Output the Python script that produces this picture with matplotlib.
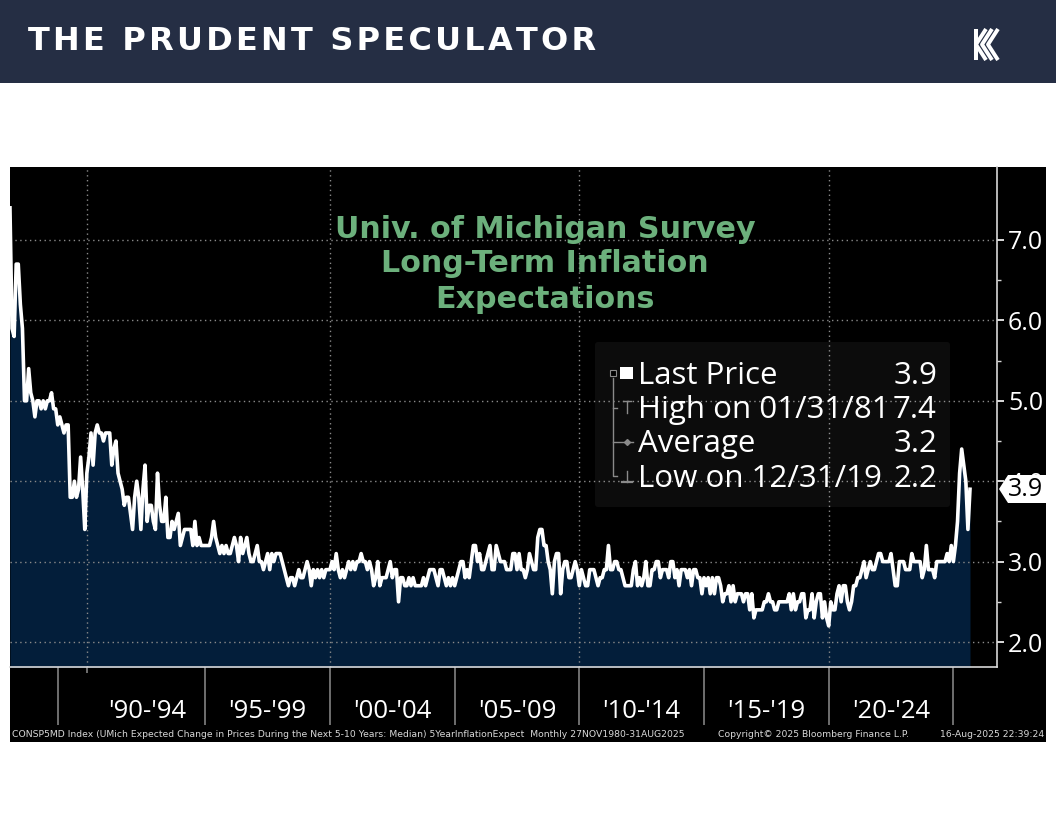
import numpy as np
import matplotlib
matplotlib.use('Agg')
import matplotlib.pyplot as plt
from matplotlib.patches import Rectangle, FancyBboxPatch, Polygon

# Readings. The early part of the series is squeezed on the axis.
early = [7.4, 5.9, 5.8, 6.7, 6.7, 6.2, 5.9, 5.0, 5.0, 5.4, 5.1, 5.0, 4.8, 5.0, 5.0, 4.9, 5.0, 4.9, 5.0,
         5.0, 5.1, 4.9, 4.9, 4.7, 4.8, 4.7, 4.6, 4.7, 4.7, 3.8, 3.8, 4.0, 3.8, 3.9, 4.3, 3.9, 3.4, 4.1,
         4.3, 4.6, 4.2, 4.6, 4.7, 4.6, 4.6, 4.5, 4.6, 4.6, 4.6, 4.2, 4.4, 4.5, 4.1, 4.0, 3.9, 3.7, 3.8,
         3.8, 3.6, 3.4, 3.8, 4.0, 3.8, 3.4, 3.9, 4.2, 3.5, 3.7, 3.7, 3.5, 3.4, 4.1, 3.7, 3.5, 3.5, 3.8,
         3.3, 3.3, 3.5, 3.4, 3.5, 3.6, 3.2, 3.3, 3.4, 3.4, 3.4, 3.4, 3.2, 3.5, 3.2, 3.3, 3.2, 3.2]
y1995 = [3.2, 3.2, 3.2, 3.3, 3.5, 3.3, 3.2, 3.1, 3.2, 3.1, 3.2, 3.1]
y1996 = [3.1, 3.2, 3.3, 3.2, 3.0, 3.3, 3.1, 3.2, 3.3, 3.1, 3.0, 3.0]
y1997 = [3.1, 3.2, 3.0, 3.0, 2.9, 3.0, 3.1, 2.9, 3.1, 3.0, 3.1, 3.1]
y1998 = [3.1, 3.0, 2.9, 2.8, 2.7, 2.8, 2.8, 2.7, 2.8, 2.9, 2.8, 2.8]
y1999 = [2.9, 3.0, 2.9, 2.7, 2.9, 2.8, 2.9, 2.8, 2.9, 2.8, 2.9, 2.9]
y2000 = [2.9, 3.0, 2.9, 3.1, 2.9, 2.8, 2.9, 2.8, 2.9, 3.0, 2.9, 3.0]
y2001 = [2.9, 3.0, 3.0, 3.1, 3.0, 3.0, 2.9, 3.0, 2.9, 2.7, 2.8, 3.0]
y2002 = [2.7, 2.8, 2.8, 2.8, 2.9, 3.0, 2.8, 2.9, 2.9, 2.5, 2.8, 2.8]
y2003 = [2.7, 2.7, 2.8, 2.7, 2.8, 2.7, 2.7, 2.7, 2.7, 2.8, 2.7, 2.8]
y2004 = [2.9, 2.9, 2.9, 2.8, 2.7, 2.9, 2.9, 2.8, 2.7, 2.8, 2.7, 2.8]
y2005 = [2.7, 2.8, 2.9, 3.0, 3.0, 2.8, 2.9, 2.8, 3.0, 3.2, 3.2, 3.0]
y2006 = [3.1, 2.9, 2.9, 3.0, 3.1, 3.2, 2.9, 2.9, 3.2, 3.1, 3.0, 3.0]
y2007 = [3.0, 2.9, 2.9, 2.9, 3.1, 3.1, 2.9, 3.1, 2.9, 2.9, 2.8, 2.9]
y2008 = [3.1, 3.0, 2.9, 2.9, 3.3, 3.4, 3.4, 3.2, 3.2, 3.0, 2.9, 2.6]
y2009 = [3.0, 3.1, 3.1, 2.6, 2.9, 3.0, 3.0, 2.8, 2.8, 2.9, 3.0, 2.9]
y2010 = [2.7, 2.9, 2.8, 2.7, 2.7, 2.9, 2.9, 2.9, 2.8, 2.7, 2.8, 2.8]
y2011 = [2.9, 2.9, 3.2, 2.9, 2.9, 3.0, 3.0, 2.9, 2.9, 2.8, 2.7, 2.7]
y2012 = [2.7, 2.7, 2.9, 3.0, 2.7, 2.8, 2.7, 2.8, 3.0, 2.7, 2.7, 2.9]
y2013 = [2.9, 3.0, 3.0, 2.8, 2.9, 2.9, 2.9, 2.8, 3.0, 3.0, 2.8, 2.9]
y2014 = [2.7, 2.9, 2.9, 2.9, 2.8, 2.9, 2.7, 2.9, 2.9, 2.8, 2.8, 2.6]
y2015 = [2.8, 2.7, 2.8, 2.6, 2.8, 2.6, 2.8, 2.8, 2.7, 2.5, 2.6, 2.6]
y2016 = [2.7, 2.5, 2.7, 2.5, 2.6, 2.6, 2.6, 2.5, 2.6, 2.6, 2.4, 2.6]
y2017 = [2.3, 2.4, 2.4, 2.4, 2.4, 2.5, 2.5, 2.6, 2.5, 2.5, 2.4, 2.4]
y2018 = [2.5, 2.5, 2.5, 2.5, 2.5, 2.6, 2.4, 2.6, 2.4, 2.5, 2.5, 2.6]
y2019 = [2.6, 2.3, 2.4, 2.4, 2.6, 2.3, 2.5, 2.6, 2.6, 2.3, 2.5, 2.3]
y2020 = [2.2, 2.5, 2.4, 2.4, 2.6, 2.7, 2.5, 2.7, 2.7, 2.5, 2.4, 2.5]
y2021 = [2.7, 2.7, 2.8, 2.8, 2.9, 3.0, 2.8, 2.9, 3.0, 2.9, 2.9, 3.0]
y2022 = [3.1, 3.1, 3.0, 3.0, 3.0, 3.0, 3.1, 2.9, 2.7, 2.7, 3.0, 3.0]
y2023 = [3.0, 2.9, 2.9, 2.9, 3.1, 3.0, 3.0, 3.0, 3.0, 2.8, 2.9, 3.2]
y2024 = [2.9, 2.9, 2.9, 2.8, 3.0, 3.0, 3.0, 3.0, 3.0, 3.1, 3.0, 3.2]
y2025 = [3.0, 3.2, 3.5, 4.1, 4.4, 4.2, 4.0, 3.4, 3.9]

period_labels = ["'90-'94", "'95-'99", "'00-'04", "'05-'09", "'10-'14", "'15-'19", "'20-'24"]
months_back_labels = [396, 338, 278, 218, 158, 98, 38]
months_back_ticks = [439, 368, 308, 248, 188, 128, 68, 8]
months_back_vgrid = [425, 308, 188, 68]
y_ticks = [2, 3, 4, 5, 6, 7]
legend_names = ['Last Price', 'High on 01/31/81', 'Average', 'Low on 12/31/19']
legend_values = ['3.9', '7.4', '3.2', '2.2']

values = np.array(early + y1995 + y1996 + y1997 + y1998 + y1999 + y2000 + y2001 + y2002 + y2003 + y2004
                  + y2005 + y2006 + y2007 + y2008 + y2009 + y2010 + y2011 + y2012 + y2013 + y2014 + y2015
                  + y2016 + y2017 + y2018 + y2019 + y2020 + y2021 + y2022 + y2023 + y2024 + y2025)
months_back = np.arange(len(values))[::-1]

W, H = 1056, 816
NAVY = '#252e44'
GREEN = '#6cb07c'
FONT = 'Open Sans'
fig = plt.figure(figsize=(W / 100, H / 100), dpi=100, facecolor='white')

# background: header band and the black terminal panel, in pixel coordinates
bg = fig.add_axes([0, 0, 1, 1], zorder=0)
bg.set_xlim(0, W)
bg.set_ylim(H, 0)
bg.axis('off')
bg.add_patch(Rectangle((0, 0), W, 83, color=NAVY, lw=0))
bg.add_patch(Rectangle((10, 167), 1036, 575, color='black', lw=0))

# chart axes
px_per_month = 2.078
ax = fig.add_axes([10 / W, 1 - 667 / H, 987 / W, 500 / H], zorder=1, facecolor='black')
ax.set_xlim((970 - 10) / px_per_month, (970 - 997) / px_per_month)
ax.set_ylim(2 - 25 / 80.4, 2 + 475 / 80.4)
ax.fill_between(months_back, values, 0, color='#031e3a', lw=0)
ax.plot(months_back, values, color='white', lw=2.6, solid_joinstyle='round')
for m in months_back_vgrid:
    ax.axvline(m, color='#8a8a8a', lw=1.0, ls=(0, (1, 2.5)), zorder=1.5)
for v in y_ticks:
    ax.axhline(v, color='#8a8a8a', lw=1.0, ls=(0, (1, 2.5)), zorder=1.5)

for side in ['top', 'left']:
    ax.spines[side].set_visible(False)
ax.spines['right'].set_color('#d8d8d8')
ax.spines['bottom'].set_color('#d8d8d8')
ax.spines['right'].set_linewidth(1.2)
ax.spines['bottom'].set_linewidth(1.2)
ax.yaxis.tick_right()
ax.set_yticks(y_ticks)
ax.set_yticklabels(['%.1f' % v for v in y_ticks], color='white', fontsize=18, family=FONT)
ax.set_yticks(np.array(y_ticks[:-1]) + 0.5, minor=True)
ax.tick_params(axis='y', which='major', length=5, width=1.2, color='white', pad=3)
ax.tick_params(axis='y', which='minor', length=3, width=1, color='#d8d8d8')
ax.set_xticks(months_back_ticks)
ax.set_xticklabels([])
ax.set_xticks([425], minor=True)
ax.tick_params(axis='x', which='major', length=42, width=1.1, color='#8c8c8c')
ax.tick_params(axis='x', which='minor', length=4, width=1.1, color='#8c8c8c')
for mid, lab in zip(months_back_labels, period_labels):
    ax.annotate(lab, xy=(mid, 0), xycoords=('data', 'axes fraction'), xytext=(0, -45 * 72 / 100),
                textcoords='offset points', ha='center', va='center', color='white', fontsize=18.5, family=FONT)

# everything that sits on top of the chart
top = fig.add_axes([0, 0, 1, 1], zorder=2)
top.set_xlim(0, W)
top.set_ylim(H, 0)
top.axis('off')
top.patch.set_alpha(0)

# header
top.text(28, 41, '\u200a'.join('THE PRUDENT SPECULATOR'), color='white', fontsize=23.05, fontweight='bold',
         family='DejaVu Sans', va='center', ha='left')
for dx in [0, 6, 12]:
    top.plot([986 + dx, 976 + dx, 986 + dx], [29, 44.5, 60], color='white', lw=2.8, solid_capstyle='butt')
top.add_patch(Rectangle((974, 29), 4, 31, color='white', lw=0))

# chart title
for y, line in zip([229, 264, 299], ['Univ. of Michigan Survey', 'Long-Term Inflation', 'Expectations']):
    top.text(545, y, line, color=GREEN, fontsize=21.7, fontweight='bold', family='DejaVu Sans', ha='center',
             va='center')

# legend box
top.add_patch(FancyBboxPatch((598, 345), 349, 159, boxstyle='round,pad=3', fc='white', alpha=0.05, lw=0))
legend_y = [376, 410, 444, 479]
for y, name, val in zip(legend_y, legend_names, legend_values):
    top.text(638, y, name, color='white', fontsize=22.5, family=FONT, va='center', ha='left')
    top.text(937, y, val, color='white', fontsize=22.5, family=FONT, va='center', ha='right')
GLYPH = '#8a8a8a'
top.plot([613, 613, 617], [378, 476, 476], color=GLYPH, lw=1)
top.add_patch(Rectangle((610, 370), 6, 6, fc='black', ec=GLYPH, lw=0.8))
top.add_patch(Rectangle((620, 367), 13, 12, color='white', lw=0))
top.plot([613, 617], [408, 408], color=GLYPH, lw=1)
top.plot([627, 627], [401, 413], color=GLYPH, lw=1)
top.plot([623, 631], [401, 401], color=GLYPH, lw=1)
top.plot([613, 633], [442, 442], color=GLYPH, lw=1)
top.plot([627], [442], marker='D', ms=3, color=GLYPH)
top.plot([627, 627], [471, 482], color=GLYPH, lw=1)
top.plot([622, 632], [482, 482], color=GLYPH, lw=1.6)

# last value tag
top.add_patch(Polygon([(999, 489), (1008, 475), (1046, 475), (1046, 503), (1008, 503)], color='white', lw=0))
top.text(1026, 489.5, '3.9', color='black', fontsize=18, family=FONT, ha='center', va='center')

# footer
top.text(12, 734.5, 'CONSP5MD Index (UMich Expected Change in Prices During the Next 5-10 Years: Median) '
         '5YearInflationExpect  Monthly 27NOV1980-31AUG2025', color='#d8d8d8', fontsize=6.7,
         family='DejaVu Sans', ha='left', va='center')
top.text(718, 734.5, 'Copyright\u00a9 2025 Bloomberg Finance L.P.', color='#d8d8d8', fontsize=6.7,
         family='DejaVu Sans', ha='left', va='center')
top.text(1044, 734.5, '16-Aug-2025 22:39:24', color='#d8d8d8', fontsize=6.7, family='DejaVu Sans', ha='right',
         va='center')

fig.savefig('out.png', dpi=100)
